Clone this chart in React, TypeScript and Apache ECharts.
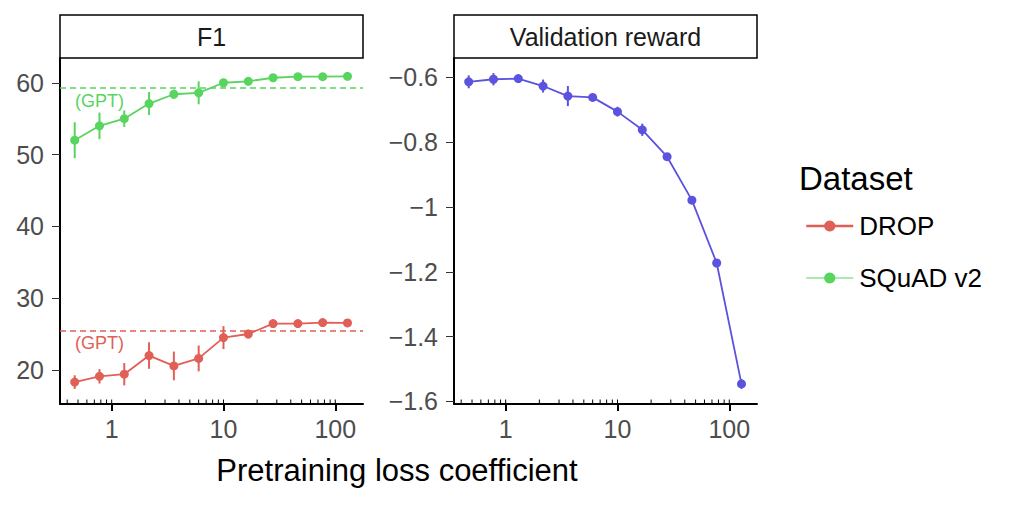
import { useEffect, useRef } from 'react';
import * as echarts from 'echarts';

// pretraining loss coefficients (x), shared by both panels
const coefficients = [0.467, 0.778, 1.296, 2.16, 3.6, 6, 10, 16.67, 27.78, 46.3, 77.16, 128.6];

const squadF1 = [52.0, 54.0, 55.0, 57.1, 58.4, 58.6, 60.0, 60.2, 60.7, 60.85, 60.85, 60.9];
const squadErr = [2.5, 1.85, 1.15, 1.6, 0.65, 1.6, 0.4, 0.3, 0.3, 0.3, 0.3, 0.3];
const dropF1 = [18.3, 19.1, 19.4, 22.0, 20.55, 21.6, 24.5, 25.0, 26.45, 26.45, 26.6, 26.55];
const dropErr = [0.95, 1.0, 1.55, 1.85, 2.0, 1.8, 1.6, 0.6, 0.3, 0.3, 0.3, 0.3];
const reward = [-0.614, -0.606, -0.604, -0.627, -0.658, -0.662, -0.706, -0.762, -0.845, -0.979, -1.173, -1.546];
const rewardErr = [0.02, 0.019, 0.008, 0.02, 0.031, 0.008, 0.015, 0.019, 0.01, 0.01, 0.01, 0.015];

const gptSquad = 59.25;
const gptDrop = 25.5;

const majorTicks = [1, 10, 100];
const minorTicks = [0.4, 0.5, 0.6, 0.7, 0.8, 0.9, 1, 2, 3, 4, 5, 6, 7, 8, 9, 10, 20, 30, 40, 50, 60, 70, 80, 90, 100];
const f1Ticks = [20, 30, 40, 50, 60];
const rewardTicks = [-1.6, -1.4, -1.2, -1, -0.8, -0.6];

const F1_MIN = 15.25;
const F1_MAX = 63.45;
const REWARD_MIN = -1.608;
const REWARD_MAX = -0.5405;

const RED = '#E05F57';
const GREEN = '#57D55E';
const BLUE = '#5B52DF';
const FONT = '"Liberation Sans", Arial, sans-serif';

const errorSeries = (name: string, idx: number, mean: number[], err: number[], color: string) => ({
  name,
  type: 'custom',
  xAxisIndex: idx,
  yAxisIndex: idx,
  silent: true,
  z: 3,
  data: coefficients.map((x, i) => [x, mean[i] - err[i], mean[i] + err[i]]),
  encode: { x: 0, y: [1, 2] },
  renderItem: (_p: any, api: any) => {
    const lo = api.coord([api.value(0), api.value(1)]);
    const hi = api.coord([api.value(0), api.value(2)]);
    return {
      type: 'line',
      shape: { x1: lo[0], y1: lo[1], x2: hi[0], y2: hi[1] },
      style: { stroke: color, lineWidth: 2 },
    };
  },
});

// small inward log ticks along the bottom axis
const tickSeries = (idx: number, yMin: number) => ({
  name: 'ticks' + idx,
  type: 'custom',
  xAxisIndex: idx,
  yAxisIndex: idx,
  silent: true,
  clip: false,
  z: 5,
  data: minorTicks.map((v) => [v, yMin]),
  renderItem: (_p: any, api: any) => {
    const pt = api.coord([api.value(0), api.value(1)]);
    return {
      type: 'line',
      shape: { x1: pt[0], y1: pt[1] - 1, x2: pt[0], y2: pt[1] - 4.5 },
      style: { stroke: '#000', lineWidth: 1 },
    };
  },
});

const lineSeries = (name: string, idx: number, values: number[], color: string, gpt?: number) => ({
  name,
  type: 'line',
  xAxisIndex: idx,
  yAxisIndex: idx,
  data: coefficients.map((x, i) => [x, values[i]]),
  symbol: 'circle',
  symbolSize: 9,
  z: 4,
  itemStyle: { color },
  lineStyle: { color, width: 1.8 },
  markLine:
    gpt === undefined
      ? undefined
      : {
          silent: true,
          symbol: 'none',
          data: [{ yAxis: gpt }],
          lineStyle: { color, type: [6, 4], width: 1.5 },
          label: {
            show: true,
            position: 'insideStartBottom',
            formatter: '(GPT)',
            color,
            fontFamily: FONT,
            fontSize: 18,
            distance: [15, 4],
          },
        },
});

const xAxis = (idx: number) => ({
  type: 'log',
  logBase: 10,
  gridIndex: idx,
  min: 0.345,
  max: 177,
  axisLine: { show: true, onZero: false, lineStyle: { color: '#000', width: 2 } },
  axisTick: { show: true, customValues: majorTicks, length: 7, lineStyle: { color: '#000', width: 2 } },
  axisLabel: {
    customValues: majorTicks,
    color: '#4d4d4d',
    fontFamily: FONT,
    fontSize: 25,
    margin: 12,
    formatter: (v: number) => String(v),
  },
  splitLine: { show: false },
  minorTick: { show: false },
});

const yAxis = (idx: number, min: number, max: number, ticks: number[]) => ({
  type: 'value',
  gridIndex: idx,
  min,
  max,
  axisLine: { show: true, onZero: false, lineStyle: { color: '#000', width: 2 } },
  axisTick: { show: true, customValues: ticks, length: 8, lineStyle: { color: '#333', width: 1 } },
  axisLabel: {
    customValues: ticks,
    color: '#4d4d4d',
    fontFamily: FONT,
    fontSize: 25,
    margin: 16,
    formatter: (v: number) => (v < 0 ? '\u2212' : '') + String(Math.abs(v)),
  },
  splitLine: { show: false },
});

const strip = (x: number, label: string) => [
  {
    type: 'rect',
    shape: { x, y: 15, width: 303, height: 43 },
    style: { fill: '#fff', stroke: '#000', lineWidth: 1.5 },
  },
  {
    type: 'text',
    x: x + 151.5,
    y: 37,
    style: { text: label, align: 'center', verticalAlign: 'middle', fontFamily: FONT, fontSize: 25, fill: '#1a1a1a' },
  },
];

const App = () => {
  const chartRef = useRef<HTMLDivElement>(null);

  useEffect(() => {
    document.body.style.margin = '0';
    if (!chartRef.current) return;
    const chart = echarts.init(chartRef.current, undefined, { renderer: 'svg' });

    chart.setOption({
      animation: false,
      backgroundColor: '#fff',
      grid: [
        { left: 60, top: 58, width: 303, height: 346 },
        { left: 454, top: 58, width: 303, height: 346 },
      ],
      xAxis: [xAxis(0), xAxis(1)],
      yAxis: [yAxis(0, F1_MIN, F1_MAX, f1Ticks), yAxis(1, REWARD_MIN, REWARD_MAX, rewardTicks)],
      legend: {
        data: [
          { name: 'DROP', lineStyle: { width: 2.5 } },
          { name: 'SQuAD v2', lineStyle: { width: 1 } },
        ],
        orient: 'vertical',
        left: 800,
        top: 208,
        itemWidth: 47,
        itemHeight: 14,
        itemGap: 26,
        selectedMode: false,
        textStyle: { fontFamily: FONT, fontSize: 26, color: '#000', padding: [0, 0, 0, 1] },
      },
      graphic: [
        ...strip(60, 'F1'),
        ...strip(454, 'Validation reward'),
        {
          type: 'text',
          x: 799,
          y: 178,
          style: { text: 'Dataset', verticalAlign: 'middle', fontFamily: FONT, fontSize: 33, fill: '#000' },
        },
        {
          type: 'text',
          x: 397,
          y: 470,
          style: {
            text: 'Pretraining loss coefficient',
            align: 'center',
            verticalAlign: 'middle',
            fontFamily: FONT,
            fontSize: 31,
            fill: '#000',
          },
        },
      ],
      series: [
        tickSeries(0, F1_MIN),
        tickSeries(1, REWARD_MIN),
        errorSeries('DROP err', 0, dropF1, dropErr, RED),
        errorSeries('SQuAD err', 0, squadF1, squadErr, GREEN),
        errorSeries('reward err', 1, reward, rewardErr, BLUE),
        lineSeries('DROP', 0, dropF1, RED, gptDrop),
        lineSeries('SQuAD v2', 0, squadF1, GREEN, gptSquad),
        lineSeries('Validation reward', 1, reward, BLUE),
      ],
    });

    return () => {
      chart.dispose();
    };
  }, []);

  return <div ref={chartRef} style={{ width: '1023px', height: '505px' }} />;
};

export default App;
